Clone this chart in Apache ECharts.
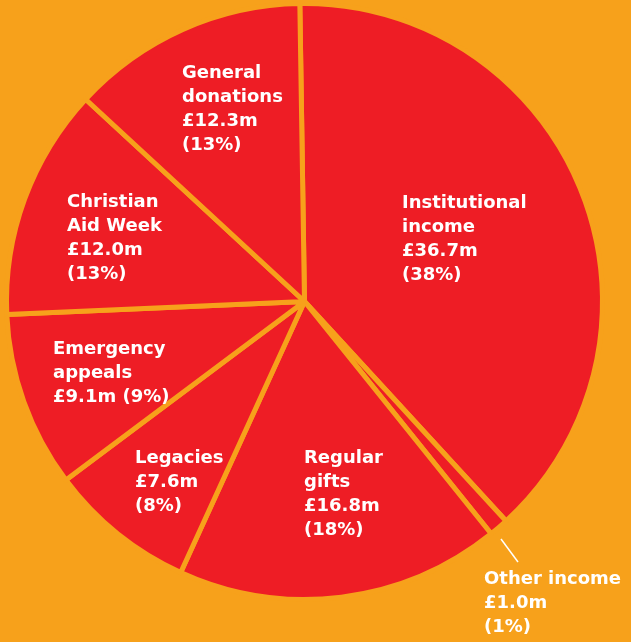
<!DOCTYPE html>
<html>
<head>
<meta charset="utf-8">
<script src="https://cdn.jsdelivr.net/npm/echarts@6/dist/echarts.min.js"></script>
<style>
  html, body { margin: 0; padding: 0; background: #F7A11B; }
  #main { width: 631px; height: 642px; }
</style>
</head>
<body>
<div id="main"></div>
<script>
// income sources, clockwise from the top
const categories = [
  'Institutional\nincome',
  'Other income',
  'Regular\ngifts',
  'Legacies',
  'Emergency\nappeals',
  'Christian\nAid Week',
  'General\ndonations'
]
const amounts = [36.7, 1.0, 16.8, 7.6, 9.1, 12.0, 12.3] // £m
const percents = [38, 1, 18, 8, 9, 13, 13] // as printed

const RED = '#EE1D25'
const ORANGE = '#F7A11B'

// where each label block starts (left, top)
const labelSpots = [
  [402, 191],
  [484, 567],
  [304, 446],
  [135, 446],
  [53, 337],
  [67, 190],
  [182, 61]
]

const chart = echarts.init(document.getElementById('main'))

const option = {
  backgroundColor: ORANGE,
  animation: false,
  series: [
    {
      type: 'pie',
      center: [304.5, 301.5],
      radius: 298,
      startAngle: 90.9,
      clockwise: true,
      avoidLabelOverlap: false,
      emphasis: { disabled: true },
      itemStyle: {
        color: RED,
        borderColor: ORANGE,
        borderWidth: 5
      },
      label: {
        show: true,
        position: 'inside',
        color: '#fff',
        fontFamily: 'DejaVu Sans',
        fontWeight: 'bold',
        fontSize: 18,
        lineHeight: 24,
        formatter: (p) => {
          const sep = p.name.startsWith('Emergency') ? ' ' : '\n'
          return p.name + '\n£' + amounts[p.dataIndex].toFixed(1) + 'm' + sep + '(' + percents[p.dataIndex] + '%)'
        }
      },
      labelLine: { show: false },
      labelLayout: (params) => {
        const spot = labelSpots[params.dataIndex]
        const out = { x: spot[0], y: spot[1], align: 'left', verticalAlign: 'top' }
        if (params.dataIndex === 1) {
          out.labelLinePoints = [[501, 539], [518, 562]]
        }
        return out
      },
      data: categories.map((name, i) => {
        const d = { name: name, value: amounts[i] }
        if (i === 1) {
          d.label = { position: 'outside' }
          d.labelLine = { show: true, length: 10, length2: 0, lineStyle: { color: '#fff', width: 1.5 } }
        }
        return d
      })
    }
  ]
}

chart.setOption(option)
</script>
</body>
</html>
